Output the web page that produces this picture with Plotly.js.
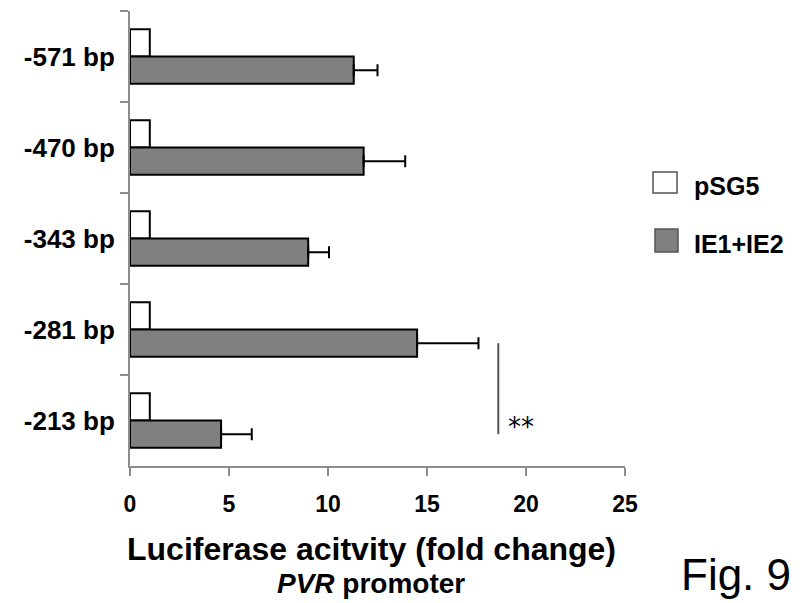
<!DOCTYPE html>
<html>
<head>
<meta charset="utf-8">
<script src="https://cdn.plot.ly/plotly-3.0.1.min.js"></script>
<style>html,body{margin:0;padding:0;background:#fff}#chart{width:802px;height:603px}</style>
</head>
<body>
<div id="chart"></div>
<script>
var categories = ["-571 bp", "-470 bp", "-343 bp", "-281 bp", "-213 bp"];
var seriesNames = ["pSG5", "IE1+IE2"];
var pSG5 = [1, 1, 1, 1, 1];
var ie = [11.3, 11.8, 9.0, 14.5, 4.6];
var ieErr = [1.2, 2.1, 1.05, 3.1, 1.55];
var xTicks = [0, 5, 10, 15, 20, 25];

var F = "Liberation Sans, Arial, sans-serif";

var traces = [
  {type: "bar", orientation: "h", name: seriesNames[0], y: categories, x: pSG5,
   marker: {color: "#ffffff", line: {color: "#000", width: 2}}},
  {type: "bar", orientation: "h", name: seriesNames[1], y: categories, x: ie,
   marker: {color: "#808080", line: {color: "#000", width: 2}},
   error_x: {type: "data", array: ieErr, symmetric: false, arrayminus: [0,0,0,0,0],
             color: "#000", thickness: 2, width: 6}}
];

var layout = {
  width: 802, height: 603,
  margin: {l: 130, r: 177, t: 11, b: 137},
  paper_bgcolor: "#fff", plot_bgcolor: "#fff",
  barmode: "group", bargap: 0.4, bargroupgap: 0,
  showlegend: false,
  font: {family: F, color: "#000"},
  xaxis: {range: [0, 25], tickvals: xTicks, ticktext: xTicks.map(String),
          showgrid: false, zeroline: false, showline: true, linecolor: "#8c8c8c", linewidth: 2,
          ticks: "outside", ticklen: 8, tickwidth: 2, tickcolor: "#8c8c8c",
          ticklabelstandoff: 8,
          tickfont: {family: F, size: 23, color: "#000", weight: "bold"}},
  yaxis: {type: "category", categoryorder: "array", categoryarray: categories, autorange: "reversed",
          showgrid: false, zeroline: false, showline: true, linecolor: "#8c8c8c", linewidth: 2,
          ticks: "outside", ticklen: 8, tickwidth: 2, tickcolor: "#8c8c8c", tickson: "boundaries",
          ticklabelstandoff: 8,
          tickfont: {family: F, size: 26, color: "#000", weight: "bold"}},
  shapes: [
    {type: "line", xref: "x", yref: "y", x0: 18.6, x1: 18.6, y0: 3.15, y1: 4.15,
     line: {color: "#555", width: 2}},
    {type: "rect", xref: "paper", yref: "paper", x0: (653-130)/495, x1: (677-130)/495, y0: (466-193)/455, y1: (466-172)/455,
     fillcolor: "#fff", line: {color: "#555", width: 1.5}},
    {type: "rect", xref: "paper", yref: "paper", x0: (655-130)/495, x1: (678-130)/495, y0: (466-252)/455, y1: (466-229)/455,
     fillcolor: "#808080", line: {color: "#555", width: 1.5}}
  ],
  annotations: [
    {xref: "x", yref: "y", x: 19.0, y: 4.07, text: "**", showarrow: false, xanchor: "left", yanchor: "middle",
     font: {family: "DejaVu Sans, sans-serif", size: 26, color: "#000"}},
    {xref: "paper", yref: "paper", x: (692-130)/495, y: (466-186)/455, text: seriesNames[0], showarrow: false,
     xanchor: "left", yanchor: "middle", font: {family: F, size: 25, color: "#000", weight: "bold"}},
    {xref: "paper", yref: "paper", x: (692-130)/495, y: (466-244)/455, text: seriesNames[1], showarrow: false,
     xanchor: "left", yanchor: "middle", font: {family: F, size: 25, color: "#000", weight: "bold"}},
    {xref: "paper", yref: "paper", x: (371-130)/495, y: -(549-466)/455, text: "Luciferase acitvity (fold change)",
     showarrow: false, xanchor: "center", yanchor: "middle", font: {family: F, size: 32, color: "#000", weight: "bold"}},
    {xref: "paper", yref: "paper", x: (371-130)/495, y: 0, yshift: -(583-466), text: "<i>PVR</i> promoter",
     showarrow: false, xanchor: "center", yanchor: "middle", borderpad: 0, font: {family: F, size: 28, color: "#000", weight: "bold"}},
    {xref: "paper", yref: "paper", x: (792-130)/495, y: 0, yshift: -(574-466), text: "Fig. 9",
     showarrow: false, xanchor: "right", yanchor: "middle", borderpad: 0, font: {family: F, size: 44, color: "#000"}}
  ]
};

Plotly.newPlot("chart", traces, layout, {staticPlot: true, displayModeBar: false});
</script>
</body>
</html>
